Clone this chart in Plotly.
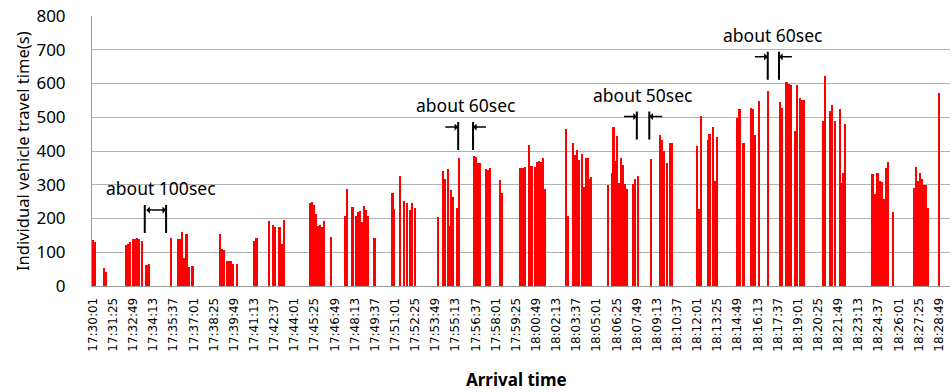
import plotly.graph_objects as go

# Arrival times (HH:MM:SS) and individual vehicle travel times (s)
arrival_times = [
    "17:30:03", "17:30:09", "17:30:48", "17:30:58",
    "17:32:20", "17:32:30", "17:32:38", "17:32:48", "17:32:58", "17:33:06", "17:33:14", "17:33:26",
    "17:33:45", "17:33:56", "17:35:28",
    "17:35:55", "17:36:04", "17:36:13", "17:36:22", "17:36:32", "17:36:43", "17:36:57",
    "17:38:51", "17:39:01", "17:39:09", "17:39:20", "17:39:29", "17:39:37", "17:39:46", "17:40:03",
    "17:41:16", "17:41:24",
    "17:42:16", "17:42:32", "17:42:42", "17:43:00", "17:43:09", "17:43:17",
    "17:45:08", "17:45:17", "17:45:25", "17:45:33", "17:45:42", "17:45:50", "17:45:58", "17:46:07",
    "17:46:35", "17:47:34", "17:47:41",
    "17:48:04", "17:48:18", "17:48:26", "17:48:34", "17:48:43", "17:48:51", "17:49:01", "17:49:09",
    "17:49:36", "17:50:51", "17:50:58", "17:51:21",
    "17:51:38", "17:51:51", "17:52:06", "17:52:14", "17:52:24",
    "17:54:01", "17:54:22", "17:54:31", "17:54:42", "17:54:49", "17:54:56", "17:55:04", "17:55:22", "17:55:29",
    "17:56:30", "17:56:41", "17:56:48", "17:56:55", "17:57:22", "17:57:30", "17:57:39",
    "17:58:20", "17:58:27",
    "17:59:45", "17:59:53", "18:00:02", "18:00:21", "18:00:31", "18:00:44", "18:00:55", "18:01:03",
    "18:01:11", "18:01:20", "18:01:28",
    "18:02:53", "18:03:01",
    "18:03:25", "18:03:33", "18:03:42", "18:03:50", "18:04:01", "18:04:08", "18:04:18", "18:04:26",
    "18:04:33", "18:04:39",
    "18:05:51", "18:06:05", "18:06:13", "18:06:20", "18:06:29", "18:06:37", "18:06:45", "18:06:52",
    "18:07:00", "18:07:09", "18:07:33", "18:07:41", "18:07:56",
    "18:08:48",
    "18:09:27", "18:09:35", "18:09:44", "18:09:57", "18:10:09", "18:10:18",
    "18:12:00", "18:12:08", "18:12:17",
    "18:12:47", "18:12:53", "18:13:06", "18:13:16", "18:13:23",
    "18:14:50", "18:14:58", "18:15:15",
    "18:15:47", "18:15:56", "18:16:04", "18:16:20", "18:16:56",
    "18:17:48", "18:17:56", "18:18:14", "18:18:24", "18:18:34", "18:18:49", "18:18:59", "18:19:09",
    "18:19:17", "18:19:25",
    "18:20:46", "18:20:54", "18:21:17", "18:21:25", "18:21:38", "18:21:56", "18:22:03", "18:22:09",
    "18:22:18",
    "18:24:13", "18:24:23", "18:24:34", "18:24:45", "18:24:52", "18:25:02", "18:25:10", "18:25:19",
    "18:25:40",
    "18:27:05", "18:27:13", "18:27:21", "18:27:30", "18:27:38", "18:27:46", "18:27:57", "18:28:03",
    "18:28:50",
]
travel_times = [
    135, 131, 52, 42,
    122, 125, 130, 138, 140, 141, 140, 134,
    62, 65, 141,
    140, 140, 160, 82, 153, 57, 58,
    155, 111, 107, 74, 74, 74, 65, 65,
    134, 141,
    192, 181, 176, 176, 124, 196,
    245, 248, 240, 213, 179, 181, 174, 193,
    146, 208, 287,
    235, 207, 219, 221, 191, 237, 225, 208,
    141, 275, 228, 327,
    253, 247, 224, 245, 232,
    205, 341, 316, 346, 178, 283, 265, 230, 380,
    385, 382, 365, 363, 346, 344, 351,
    313, 275,
    351, 351, 354, 418, 357, 354, 368, 371,
    367, 378, 286,
    464, 207,
    423, 387, 403, 373, 390, 292, 378, 378,
    318, 322,
    298, 334, 472, 371, 444, 304, 378, 358,
    302, 286, 302, 316, 326,
    375,
    446, 433, 401, 365, 425, 425,
    416, 228, 503,
    433, 449, 472, 311, 442,
    499, 524, 425,
    526, 525, 447, 548, 578,
    544, 526, 605, 600, 595, 460, 596, 556,
    551, 551,
    490, 623, 520, 536, 489, 524, 306, 334,
    479,
    331, 272, 335, 311, 309, 257, 351, 366,
    218,
    289, 354, 312, 334, 317, 299, 299, 232,
    573,
]

tick_labels = [
    "17:30:01", "17:31:25", "17:32:49", "17:34:13", "17:35:37", "17:37:01", "17:38:25",
    "17:39:49", "17:41:13", "17:42:37", "17:44:01", "17:45:25", "17:46:49", "17:48:13",
    "17:49:37", "17:51:01", "17:52:25", "17:53:49", "17:55:13", "17:56:37", "17:58:01",
    "17:59:25", "18:00:49", "18:02:13", "18:03:37", "18:05:01", "18:06:25", "18:07:49",
    "18:09:13", "18:10:37", "18:12:01", "18:13:25", "18:14:49", "18:16:13", "18:17:37",
    "18:19:01", "18:20:25", "18:21:49", "18:23:13", "18:24:37", "18:26:01", "18:27:25",
    "18:28:49",
]

# gap annotations: label, left/right marker times, level (s) of the marker arrows
gap_labels = ["about 100sec", "about 60sec", "about 50sec", "about 60sec"]
gap_left = ["17:33:37", "17:55:24", "18:07:49", "18:16:55"]
gap_right = ["17:35:06", "17:56:26", "18:08:41", "18:17:42"]
gap_level = [225, 471, 502, 679]
gap_text_shift = [25, 0, 0, 0]  # seconds


def to_sec(t):
    h, m, s = (int(v) for v in t.split(":"))
    return h * 3600 + m * 60 + s


base = to_sec(tick_labels[0])
x_vals = [to_sec(t) - base for t in arrival_times]
tick_vals = [to_sec(t) - base for t in tick_labels]

fig = go.Figure()
fig.add_trace(go.Bar(
    x=x_vals, y=travel_times, width=7,
    marker=dict(color="#FF0000", line=dict(width=0)),
    hoverinfo="skip",
))

GRID = "#b3b3b3"
fig.update_layout(
    width=952, height=392,
    margin=dict(l=92, r=2, t=16, b=106),
    paper_bgcolor="white", plot_bgcolor="white",
    showlegend=False,
    bargap=0,
    font=dict(family="Noto Sans", color="black"),
)
fig.update_xaxes(
    range=[-4, 3574],
    tickmode="array", tickvals=tick_vals, ticktext=tick_labels,
    tickangle=-90, tickfont=dict(family="DejaVu Sans", size=12, color="black"),
    showgrid=False, showline=True, linecolor="#999999", linewidth=1,
    ticks="", ticklabelstandoff=6, zeroline=False,
)
fig.update_yaxes(
    range=[0, 800], dtick=100,
    tickfont=dict(family="Noto Sans", size=17, color="black"),
    showgrid=True, gridcolor=GRID, gridwidth=1,
    showline=True, linecolor="#999999", linewidth=1,
    ticks="", ticklabelstandoff=22, zeroline=False,
)

annotations = [
    dict(text="Individual vehicle travel time(s)", xref="paper", yref="paper",
         x=-0.0816, y=0.5, textangle=-90, showarrow=False,
         font=dict(family="Noto Sans", size=16.5, color="black"),
         xanchor="center", yanchor="middle"),
    dict(text="<b>Arrival time</b>", xref="paper", yref="paper",
         x=0.495, y=-0.348, showarrow=False,
         font=dict(family="Noto Sans", size=17, color="black"),
         xanchor="center", yanchor="middle"),
]
shapes = []
for i, lab in enumerate(gap_labels):
    xl = to_sec(gap_left[i]) - base
    xr = to_sec(gap_right[i]) - base
    lvl = gap_level[i]
    for xv in (xl, xr):
        shapes.append(dict(type="line", xref="x", yref="y", x0=xv, x1=xv,
                           y0=lvl - 68, y1=lvl + 15, line=dict(color="black", width=2)))
    if i == 0:
        annotations.append(dict(x=xr, y=lvl, ax=xl, ay=lvl, xref="x", yref="y",
                                axref="x", ayref="y", text="", showarrow=True,
                                arrowhead=1, arrowside="end+start", arrowsize=0.8,
                                arrowwidth=1.5, arrowcolor="black"))
    else:
        ext = 60
        annotations.append(dict(x=xl, y=lvl, ax=xl - ext, ay=lvl, xref="x", yref="y",
                                axref="x", ayref="y", text="", showarrow=True,
                                arrowhead=1, arrowsize=0.8, arrowwidth=1.5,
                                arrowcolor="black"))
        annotations.append(dict(x=xr, y=lvl, ax=xr + ext, ay=lvl, xref="x", yref="y",
                                axref="x", ayref="y", text="", showarrow=True,
                                arrowhead=1, arrowsize=0.8, arrowwidth=1.5,
                                arrowcolor="black"))
    annotations.append(dict(text=lab, x=(xl + xr) / 2 + gap_text_shift[i], y=lvl + 65,
                            xref="x", yref="y", showarrow=False,
                            font=dict(family="Noto Sans", size=17.5, color="black"),
                            xanchor="center", yanchor="middle"))

fig.update_layout(annotations=annotations, shapes=shapes)
fig.write_html("out.html")
